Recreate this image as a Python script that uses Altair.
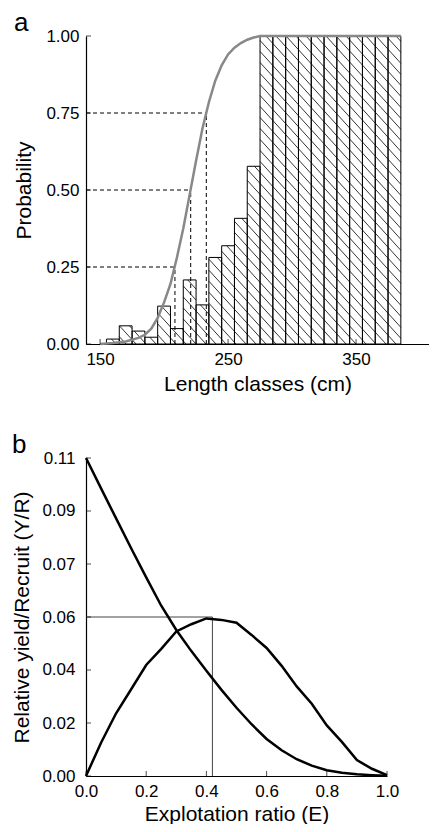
import math
import altair as alt
import pandas as pd

FONT = "Liberation Sans"

# ---------------- Panel a : selection ogive ----------------
bin_left = [155, 165, 175, 185, 195, 205, 215, 225, 235, 245, 255, 265,
            275, 285, 295, 305, 315, 325, 335, 345, 355, 365, 375]
bin_right = [165, 175, 185, 195, 205, 215, 225, 235, 245, 255, 265, 275,
             285, 295, 305, 315, 325, 335, 345, 355, 365, 375, 385]
sel_prob = [0.016, 0.059, 0.042, 0.022, 0.123, 0.050, 0.208, 0.127, 0.281,
            0.319, 0.408, 0.577, 1, 1, 1, 1, 1, 1, 1, 1, 1, 1, 1]
curve_len = [150, 160, 170, 180, 185, 190, 195, 200, 205, 210, 215, 220, 225,
             230, 235, 240, 245, 250, 255, 260, 265, 270, 275, 385]
curve_prob = [0.000, 0.003, 0.008, 0.020, 0.030, 0.050, 0.085, 0.135, 0.195,
              0.280, 0.375, 0.485, 0.595, 0.700, 0.785, 0.855, 0.905, 0.940,
              0.962, 0.977, 0.988, 0.995, 1.000, 1.000]
quant_prob = [0.25, 0.50, 0.75]
quant_len = [208.5, 220.8, 233.0]
xa_ticks = [150, 250, 350]
ya_ticks = [0.0, 0.25, 0.50, 0.75, 1.0]
XA_DOM = [139, 407]
YA_DOM = [0, 1]

# ---------------- Panel b : relative yield per recruit ----------------
expl = [0.00, 0.05, 0.10, 0.15, 0.20, 0.25, 0.30, 0.35, 0.40, 0.45, 0.50,
        0.55, 0.60, 0.65, 0.70, 0.75, 0.80, 0.85, 0.90, 0.95, 1.00]
yr_rel = [0.0000, 0.0115, 0.0217, 0.0300, 0.0384, 0.0440, 0.0500, 0.0525,
          0.0545, 0.0540, 0.0530, 0.0488, 0.0443, 0.0381, 0.0310, 0.0250,
          0.0175, 0.0118, 0.0055, 0.0025, 0.0003]
br_rel = [0.1100, 0.0995, 0.0891, 0.0788, 0.0687, 0.0589, 0.0505, 0.0432,
          0.0364, 0.0298, 0.0236, 0.0179, 0.0128, 0.0089, 0.0058, 0.0036,
          0.0020, 0.0011, 0.0006, 0.0003, 0.0001]
e_opt = 0.42
yr_opt = 0.055
xb_ticks = [0.0, 0.2, 0.4, 0.6, 0.8, 1.0]
yb_ticks = [0.0, 0.018333, 0.036667, 0.055, 0.073333, 0.091667, 0.11]
yb_labels = ["0.00", "0.02", "0.04", "0.06", "0.07", "0.09", "0.11"]
XB_DOM = [0, 1]
YB_DOM = [0, 0.11]

# ---------------- sizes / styles ----------------
WA, HA = 343, 308
WB, HB = 301, 318
LABEL_FS = 17
TITLE_FS = 21
PANEL_FS = 26
HATCH_SLOPE = 1.1     # pixel drop per pixel run
HATCH_PERIOD = 11     # vertical pixel period

# hatch segments (fill style) derived from the bars through the pixel scale
sx = WA / (XA_DOM[1] - XA_DOM[0])
sy = HA / (YA_DOM[1] - YA_DOM[0])
rows = []
for l0, l1, p in zip(bin_left, bin_right, sel_prob):
    x0 = (l0 - XA_DOM[0]) * sx
    x1 = (l1 - XA_DOM[0]) * sx
    H = p * sy
    kmin = math.floor(HATCH_SLOPE * x0 / HATCH_PERIOD)
    kmax = math.ceil((H + HATCH_SLOPE * x1) / HATCH_PERIOD)
    for k in range(kmin, kmax + 1):
        c = k * HATCH_PERIOD
        xa_ = max(x0, (c - H) / HATCH_SLOPE)
        xb_ = min(x1, c / HATCH_SLOPE)
        if xb_ - xa_ > 0.3:
            rows.append({
                "hx": XA_DOM[0] + xa_ / sx, "hx2": XA_DOM[0] + xb_ / sx,
                "hy": (c - HATCH_SLOPE * xa_) / sy, "hy2": (c - HATCH_SLOPE * xb_) / sy,
            })
hatch_df = pd.DataFrame(rows)

bars_df = pd.DataFrame({"L0": bin_left, "L1": bin_right, "p": sel_prob,
                        "base": [0.0] * len(bin_left)})
curve_df = pd.DataFrame({"L": curve_len, "P": curve_prob})
quant_df = pd.DataFrame({"Lq": quant_len, "q": quant_prob,
                         "Lstart": [XA_DOM[0]] * 3, "zero": [0.0] * 3})
xa_tick_df = pd.DataFrame({"tx": xa_ticks, "ty": [0.0] * len(xa_ticks)})
ya_tick_df = pd.DataFrame({"ty": ya_ticks, "tx": [XA_DOM[0]] * len(ya_ticks)})

AX_COMMON = dict(ticks=False, tickSize=0, grid=False, labelFlush=False, labelOverlap=False,
                 labelFontSize=LABEL_FS, titleFontSize=TITLE_FS, labelFont=FONT,
                 titleFont=FONT, labelColor="black", titleColor="black",
                 titleFontWeight="normal", domainColor="black", domainWidth=1.2)

AXA_X = alt.Axis(values=xa_ticks, title="Length classes (cm)", format="d",
                 labelPadding=7, titlePadding=6, **AX_COMMON)
AXA_Y = alt.Axis(values=ya_ticks, title="Probability", format=".2f",
                 labelPadding=7, titlePadding=11, **AX_COMMON)
SCA_X = alt.Scale(domain=XA_DOM, nice=False, zero=False)
SCA_Y = alt.Scale(domain=YA_DOM, nice=False, zero=False)


def xa(f):
    return alt.X(f, type="quantitative", scale=SCA_X, axis=AXA_X)


def ya(f):
    return alt.Y(f, type="quantitative", scale=SCA_Y, axis=AXA_Y)


hatch = alt.Chart(hatch_df).mark_rule(color="black", strokeWidth=0.8).encode(
    x=xa("hx"), x2="hx2", y=ya("hy"), y2="hy2")
bars = alt.Chart(bars_df).mark_rect(fill="white", fillOpacity=0, stroke="black",
                                    strokeWidth=1).encode(
    x=xa("L0"), x2="L1", y=ya("p"), y2="base")
hdash = alt.Chart(quant_df).mark_rule(color="black", strokeWidth=1, strokeDash=[4, 3]).encode(
    x=xa("Lstart"), x2="Lq", y=ya("q"))
vdash = alt.Chart(quant_df).mark_rule(color="black", strokeWidth=1, strokeDash=[4, 3]).encode(
    x=xa("Lq"), y=ya("zero"), y2="q")
curve = alt.Chart(curve_df).mark_line(color="#888888", strokeWidth=2.5).encode(
    x=xa("L"), y=ya("P"))
xticks_a = alt.Chart(xa_tick_df).mark_tick(orient="vertical", size=5, yOffset=-2.5,
                                           thickness=1, color="black").encode(
    x=xa("tx"), y=ya("ty"))
yticks_a = alt.Chart(ya_tick_df).mark_tick(orient="horizontal", size=5, xOffset=2.5,
                                           thickness=1, color="black").encode(
    x=xa("tx"), y=ya("ty"))

panel_a = alt.layer(hatch, bars, hdash, vdash, curve, xticks_a, yticks_a).properties(
    width=WA, height=HA,
    title=alt.TitleParams("a", anchor="start", frame="bounds", fontSize=PANEL_FS, font=FONT,
                          fontWeight="normal", color="black", offset=-9))

# ---------------- Panel b ----------------
lines_df = pd.DataFrame({
    "E": expl + expl,
    "V": yr_rel + br_rel,
    "series": ["Y/R"] * len(expl) + ["B/R"] * len(expl),
})
opt_df = pd.DataFrame({"E0": [0.0], "E1": [e_opt], "V0": [0.0], "V1": [yr_opt]})
xb_tick_df = pd.DataFrame({"tx": xb_ticks, "ty": [0.0] * len(xb_ticks)})
yb_tick_df = pd.DataFrame({"ty": yb_ticks, "tx": [0.0] * len(yb_ticks)})

label_expr = "[" + ",".join("'%s'" % s for s in yb_labels) + "][round(datum.value*6/0.11)]"
AXB_X = alt.Axis(values=xb_ticks, title="Explotation ratio (E)", format=".1f",
                 labelPadding=7, titlePadding=4, **AX_COMMON)
AXB_Y = alt.Axis(values=yb_ticks, title="Relative yield/Recruit (Y/R)", labelExpr=label_expr,
                 labelPadding=11, titlePadding=9, **AX_COMMON)
SCB_X = alt.Scale(domain=XB_DOM, nice=False, zero=False)
SCB_Y = alt.Scale(domain=YB_DOM, nice=False, zero=False)


def xb(f):
    return alt.X(f, type="quantitative", scale=SCB_X, axis=AXB_X)


def yb(f):
    return alt.Y(f, type="quantitative", scale=SCB_Y, axis=AXB_Y)


hline = alt.Chart(opt_df).mark_rule(color="#444444", strokeWidth=1).encode(
    x=xb("E0"), x2="E1", y=yb("V1"))
vline = alt.Chart(opt_df).mark_rule(color="#444444", strokeWidth=1).encode(
    x=xb("E1"), y=yb("V0"), y2="V1")
curves = alt.Chart(lines_df).mark_line(color="black", strokeWidth=2.5).encode(
    x=xb("E"), y=yb("V"), detail="series:N")
xticks_b = alt.Chart(xb_tick_df).mark_tick(orient="vertical", size=5, yOffset=-2.5,
                                           thickness=1, color="black").encode(
    x=xb("tx"), y=yb("ty"))
yticks_b = alt.Chart(yb_tick_df).mark_tick(orient="horizontal", size=5, xOffset=2.5,
                                           thickness=1, color="black").encode(
    x=xb("tx"), y=yb("ty"))

panel_b = alt.layer(hline, vline, curves, xticks_b, yticks_b).properties(
    width=WB, height=HB,
    title=alt.TitleParams("b", anchor="start", frame="bounds", fontSize=PANEL_FS, font=FONT,
                          fontWeight="normal", color="black", offset=-9))

chart = alt.vconcat(panel_a, panel_b, spacing=38).properties(
    padding={"left": 3, "top": 2, "right": 0, "bottom": 0}
).configure(font=FONT).configure_view(stroke=None)

chart.save("out.html", embed_options={"renderer": "svg", "actions": False})
